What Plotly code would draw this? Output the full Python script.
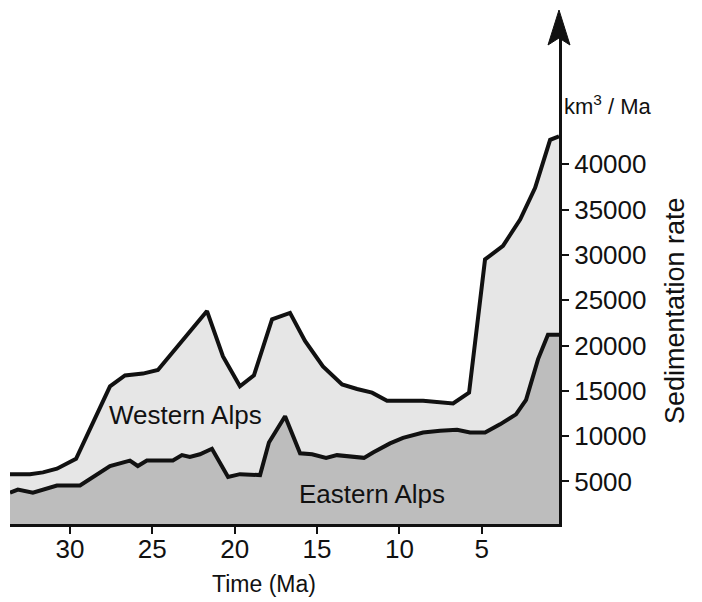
import plotly.graph_objects as go

# Time (Ma) and sedimentation rate (km^3/Ma)
west_t = [33.64, 32.43, 31.64, 30.79, 29.63, 27.57, 26.66, 25.57, 24.66, 21.68,
          20.71, 19.68, 18.83, 17.73, 16.64, 15.73, 14.64, 13.48, 12.57, 11.66,
          10.75, 8.56, 6.74, 5.77, 4.80, 3.71, 2.67, 1.76, 0.85, 0.31]
west_v = [5800, 5800, 6000, 6400, 7500, 15500, 16700, 16900, 17300, 23800,
          18800, 15500, 16700, 22900, 23600, 20500, 17700, 15700, 15200, 14800,
          13900, 13900, 13600, 14800, 29500, 31000, 33900, 37400, 42700, 43100]

east_t = [33.64, 33.16, 32.25, 30.79, 29.39, 28.66, 27.57, 26.36, 25.88, 25.33,
          23.75, 23.20, 22.72, 22.11, 21.38, 20.40, 19.68, 18.46, 17.92, 16.94,
          16.03, 15.30, 14.45, 13.79, 12.15, 11.60, 10.57, 9.78, 8.56, 7.53,
          6.50, 5.71, 4.80, 3.89, 2.92, 2.31, 1.58, 0.98, 0.31]
east_v = [3750, 4100, 3750, 4550, 4550, 5400, 6700, 7300, 6700, 7300,
          7300, 7900, 7700, 8000, 8600, 5500, 5800, 5700, 9300, 12200,
          8100, 8000, 7600, 7900, 7600, 8200, 9200, 9800, 10400, 10600,
          10700, 10400, 10400, 11300, 12400, 14000, 18500, 21200, 21200]

x_ticks = [30, 25, 20, 15, 10, 5]
y_ticks = [5000, 10000, 15000, 20000, 25000, 30000, 35000, 40000]

REG = "Liberation Sans, Arial, sans-serif"
INK = "#111111"

fig = go.Figure()
fig.add_trace(go.Scatter(x=west_t, y=west_v, mode="lines", fill="tozeroy",
                         fillcolor="#e6e6e6", line=dict(color=INK, width=4),
                         name="Western Alps", showlegend=False, hoverinfo="skip"))
fig.add_trace(go.Scatter(x=east_t, y=east_v, mode="lines", fill="tozeroy",
                         fillcolor="#bdbdbd", line=dict(color=INK, width=4),
                         name="Eastern Alps", showlegend=False, hoverinfo="skip"))

fig.update_layout(
    width=702, height=602,
    margin=dict(l=10, r=143, t=30, b=78, autoexpand=False),
    paper_bgcolor="white", plot_bgcolor="white",
    font=dict(family=REG, size=25, color=INK),
    xaxis=dict(range=[33.64, 0.31], tickvals=x_ticks, ticktext=[str(v) for v in x_ticks],
               showgrid=False, zeroline=False, showline=True, linecolor=INK, linewidth=3,
               ticks="outside", ticklen=7, tickwidth=2, tickcolor=INK,
               ticklabelstandoff=-7,
               tickfont=dict(family=REG, size=26, color=INK)),
    yaxis=dict(range=[300, 54826], side="right", tickvals=y_ticks,
               ticktext=[str(v) for v in y_ticks],
               showgrid=False, zeroline=False, showline=True, linecolor=INK, linewidth=3,
               ticks="outside", ticklen=7, tickwidth=2, tickcolor=INK,
               tickfont=dict(family=REG, size=26, color=INK)),
    shapes=[dict(type="path", xref="paper", yref="paper", xsizemode="pixel",
                 ysizemode="pixel", xanchor=1, yanchor=1,
                 path="M 0 20 L -11 -15 L 0 -8 L 11 -15 Z",
                 fillcolor=INK, line=dict(color=INK, width=1))],
    annotations=[
        dict(x=23.0, y=12300, xref="x", yref="y", text="Western Alps", showarrow=False,
             font=dict(family=REG, size=26, color=INK)),
        dict(x=11.69, y=3570, xref="x", yref="y", text="Eastern Alps", showarrow=False,
             font=dict(family=REG, size=26, color=INK)),
        dict(x=18.2, y=0, xref="x", yref="paper", yanchor="middle", yshift=-60,
             text="Time (Ma)", showarrow=False, font=dict(family=REG, size=23, color=INK)),
        dict(x=1, y=23800, xref="paper", yref="y", xanchor="center", yanchor="middle",
             xshift=116, textangle=-90,
             text="Sedimentation rate", showarrow=False,
             font=dict(family=REG, size=27, color=INK)),
        dict(x=1, y=46600, xref="paper", yref="y", xanchor="left", xshift=3,
             text="km<sup>3</sup> / Ma", showarrow=False,
             font=dict(family=REG, size=22, color=INK)),
    ],
)

fig.write_html("out.html", config={"displayModeBar": False},
               post_script="document.body.style.margin='0px';")
